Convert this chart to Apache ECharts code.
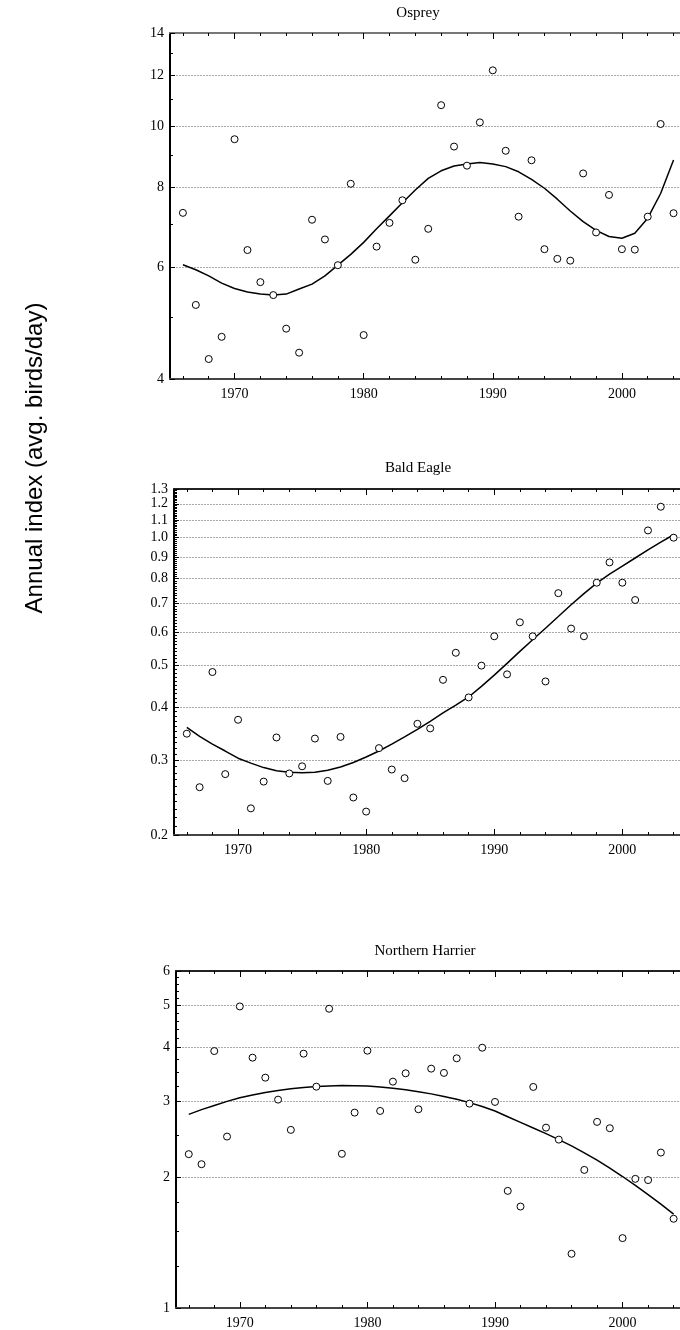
<!DOCTYPE html>
<html>
<head>
<meta charset="utf-8">
<script src="https://cdn.jsdelivr.net/npm/echarts@6/dist/echarts.min.js"></script>
<style>html,body{margin:0;padding:0;background:#fff}#c{width:680px;height:1330px}</style>
</head>
<body>
<div id="c"></div>
<script>
const years = [1966,1967,1968,1969,1970,1971,1972,1973,1974,1975,1976,1977,1978,1979,1980,1981,1982,1983,1984,1985,1986,1987,1988,1989,1990,1991,1992,1993,1994,1995,1996,1997,1998,1999,2000,2001,2002,2003,2004];

const ospreyIndex = [7.30,5.23,4.30,4.66,9.53,6.38,5.68,5.42,4.80,4.40,7.12,6.63,6.04,8.11,4.69,6.46,7.04,7.64,6.16,6.89,10.78,9.28,8.66,10.13,12.23,9.14,7.20,8.83,6.40,6.18,6.14,8.42,6.80,7.79,6.40,6.39,7.20,10.07,7.29];
const ospreyTrend = [6.05,5.94,5.81,5.66,5.55,5.48,5.44,5.42,5.44,5.54,5.64,5.81,6.04,6.28,6.56,6.89,7.22,7.57,7.93,8.27,8.50,8.65,8.71,8.76,8.71,8.63,8.47,8.24,7.98,7.67,7.35,7.07,6.85,6.70,6.66,6.78,7.16,7.83,8.84];

const eagleIndex = [0.346,0.259,0.483,0.278,0.373,0.231,0.267,0.339,0.279,0.290,0.337,0.268,0.340,0.245,0.227,0.320,0.285,0.272,0.365,0.356,0.463,0.536,0.421,0.500,0.586,0.477,0.632,0.586,0.459,0.740,0.611,0.586,0.783,0.874,0.783,0.713,1.039,1.181,0.999];
const eagleTrend = [0.358,0.341,0.327,0.315,0.303,0.295,0.288,0.283,0.281,0.280,0.281,0.284,0.289,0.296,0.305,0.315,0.327,0.340,0.354,0.370,0.387,0.404,0.422,0.447,0.475,0.506,0.540,0.575,0.612,0.652,0.695,0.738,0.781,0.820,0.857,0.895,0.935,0.975,1.015];

const harrierIndex = [2.266,2.148,3.92,2.488,4.97,3.785,3.403,3.028,2.578,3.866,3.244,4.909,2.27,2.826,3.928,2.851,3.332,3.483,2.877,3.57,3.49,3.772,2.964,3.99,2.991,1.864,1.715,3.239,2.609,2.448,1.334,2.084,2.69,2.601,1.45,1.987,1.974,2.285,1.607];
const harrierTrend = [2.80,2.871,2.935,3.000,3.058,3.105,3.145,3.180,3.208,3.230,3.246,3.257,3.262,3.261,3.254,3.240,3.218,3.190,3.158,3.122,3.080,3.034,2.980,2.920,2.850,2.765,2.683,2.604,2.527,2.448,2.368,2.282,2.195,2.104,2.012,1.919,1.828,1.737,1.647];

const titles = ['Osprey','Bald Eagle','Northern Harrier'];
const yLabelText = 'Annual index (avg. birds/day)';

const xMajorTicks = [1970,1980,1990,2000];
const xMinorTicks = [1966,1968,1972,1974,1976,1978,1982,1984,1986,1988,1992,1994,1996,1998,2002,2004];

const ospreyYTicks = [4,6,8,10,12,14];
const ospreyYMinor = [5,7,9,11,13];
const eagleYTicks = [0.2,0.3,0.4,0.5,0.6,0.7,0.8,0.9,1.0,1.1,1.2,1.3];
const eagleYMinor = [];
for (let k = 21; k < 130; k++) { if (k % 10 !== 0) eagleYMinor.push(k / 100); }
const harrierYTicks = [1,2,3,4,5,6];
const harrierYMinor = [1.25,1.5,1.75,2.5,3.25,3.5,3.75,4.2,4.4,4.6,4.8,5.2,5.4,5.6,5.8];

const panels = [
  {idx: ospreyIndex, trend: ospreyTrend, ticks: ospreyYTicks, minor: ospreyYMinor, min: 4, max: 14, fmt: v => String(v),
   grid: {left: 170, top: 33, right: 0, height: 346}, title: [418, 13]},
  {idx: eagleIndex, trend: eagleTrend, ticks: eagleYTicks, minor: eagleYMinor, min: 0.2, max: 1.3, fmt: v => Number(v).toFixed(1),
   grid: {left: 174, top: 489, right: 0, height: 346}, title: [418, 468]},
  {idx: harrierIndex, trend: harrierTrend, ticks: harrierYTicks, minor: harrierYMinor, min: 1, max: 6, fmt: v => String(v),
   grid: {left: 176, top: 971, right: 0, height: 337}, title: [425, 951]}
];

const serif = 'Liberation Serif';
const grid = [], xAxis = [], yAxis = [], series = [], graphic = [];

panels.forEach((p, i) => {
  grid.push(Object.assign({containLabel: false}, p.grid));
  const xBase = {type: 'value', gridIndex: i, min: 1965, max: 2004.5, splitLine: {show: false}};
  xAxis.push(Object.assign({}, xBase, {
    position: 'bottom',
    axisLine: {show: true, onZero: false, lineStyle: {color: '#444', width: 2}},
    axisTick: {show: true, inside: true, length: 6, customValues: xMajorTicks, lineStyle: {color: '#000', width: 1}},
    axisLabel: {show: true, customValues: xMajorTicks, formatter: v => String(v), fontFamily: serif, fontSize: 14, color: '#000', margin: 8}
  }));
  xAxis.push(Object.assign({}, xBase, {
    position: 'bottom',
    axisLine: {show: false, onZero: false},
    axisTick: {show: true, inside: true, length: 3, customValues: xMinorTicks, lineStyle: {color: '#000', width: 1}},
    axisLabel: {show: false, customValues: xMinorTicks}
  }));
  xAxis.push(Object.assign({}, xBase, {
    position: 'top',
    axisLine: {show: true, onZero: false, lineStyle: {color: i === 0 ? '#777' : '#222', width: 2}},
    axisTick: {show: true, inside: true, length: 6, customValues: xMajorTicks, lineStyle: {color: '#000', width: 1}},
    axisLabel: {show: false, customValues: xMajorTicks}
  }));
  xAxis.push(Object.assign({}, xBase, {
    position: 'top',
    axisLine: {show: false, onZero: false},
    axisTick: {show: true, inside: true, length: 3, customValues: xMinorTicks, lineStyle: {color: '#000', width: 1}},
    axisLabel: {show: false, customValues: xMinorTicks}
  }));

  yAxis.push({
    type: 'log', gridIndex: i, min: p.min, max: p.max, logBase: 10, position: 'left',
    axisLine: {show: true, onZero: false, lineStyle: {color: '#000', width: 2}},
    axisTick: {show: true, inside: true, length: 5, customValues: p.ticks, lineStyle: {color: '#000', width: 1}},
    axisLabel: {show: true, customValues: p.ticks, formatter: p.fmt, fontFamily: serif, fontSize: 14, color: '#000', margin: 6},
    splitLine: {show: true, lineStyle: {color: '#aaa', width: 1, type: [2, 1]}},
    minorTick: {show: false}, minorSplitLine: {show: false}
  });
  yAxis.push({
    type: 'log', gridIndex: i, min: p.min, max: p.max, logBase: 10, position: 'left',
    axisLine: {show: false, onZero: false},
    axisTick: {show: true, inside: true, length: 3, customValues: p.minor, lineStyle: {color: '#000', width: 1}},
    axisLabel: {show: false, customValues: p.minor},
    splitLine: {show: false}
  });

  series.push({
    type: 'line', xAxisIndex: i * 4, yAxisIndex: i * 2,
    data: years.map((y, k) => [y, p.trend[k]]),
    symbol: 'none', smooth: false, lineStyle: {color: '#000', width: 1.5}, z: 3, silent: true
  });
  series.push({
    type: 'scatter', xAxisIndex: i * 4, yAxisIndex: i * 2,
    data: years.map((y, k) => [y, p.idx[k]]),
    symbol: 'circle', symbolSize: 7,
    itemStyle: {color: '#fff', borderColor: '#000', borderWidth: 1, opacity: 1}, z: 4, silent: true
  });

  graphic.push({
    type: 'text', x: p.title[0], y: p.title[1],
    style: {text: titles[i], font: '15px "Liberation Serif"', fill: '#000', textAlign: 'center', textVerticalAlign: 'middle'}
  });
});

graphic.push({
  type: 'text', x: 35, y: 458, rotation: Math.PI / 2,
  style: {text: yLabelText, font: '24px "Liberation Sans"', fill: '#000', textAlign: 'center', textVerticalAlign: 'middle'}
});

const chart = echarts.init(document.getElementById('c'), null, {renderer: 'canvas'});
chart.setOption({
  animation: false,
  backgroundColor: '#fff',
  grid, xAxis, yAxis, series, graphic
});
</script>
</body>
</html>
